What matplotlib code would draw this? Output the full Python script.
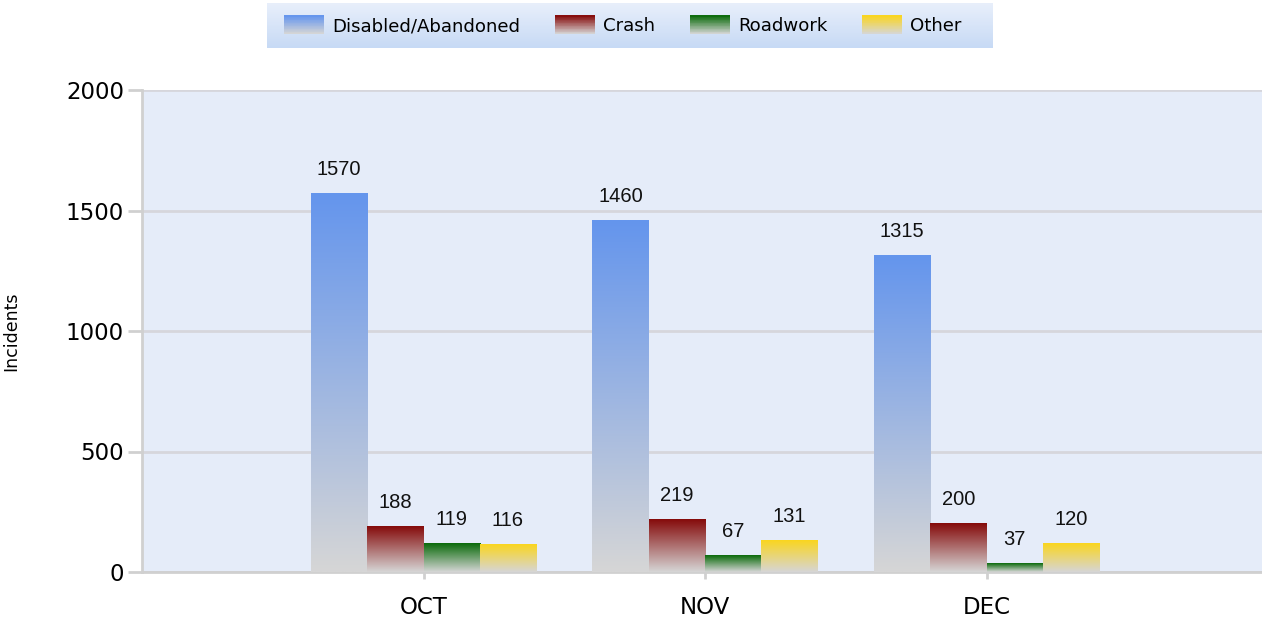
import numpy as np
import matplotlib
matplotlib.use("Agg")
import matplotlib.pyplot as plt
from matplotlib.colors import LinearSegmentedColormap, to_rgb
from matplotlib.patches import Rectangle
from matplotlib.legend_handler import HandlerBase

months = ["OCT", "NOV", "DEC"]
series = ["Disabled/Abandoned", "Crash", "Roadwork", "Other"]
disabled = [1570, 1460, 1315]
crash = [188, 219, 200]
roadwork = [119, 67, 37]
other = [116, 131, 120]
values = [disabled, crash, roadwork, other]
top_colors = ["#6495ED", "#850A0A", "#0A6A0A", "#FAD51E"]
bottom_color = "#D6D6D6"

W, H = 1262, 621
fig = plt.figure(figsize=(W / 100, H / 100), dpi=100)
ax = fig.add_axes([142 / W, 49 / H, 1 - 142 / W, (572 - 90) / H])
ax.set_facecolor("#E5ECF9")

x = np.arange(1, len(months) + 1)
width = 0.2
offsets = [-0.3, -0.1, 0.1, 0.3]

grad = np.linspace(0, 1, 256).reshape(-1, 1)
cmaps = [LinearSegmentedColormap.from_list("g", [bottom_color, c]) for c in top_colors]

for si, (vals, cm) in enumerate(zip(values, cmaps)):
    bars = ax.bar(x + offsets[si], vals, width=width, color="none", edgecolor="none", zorder=3)
    for b, v in zip(bars, vals):
        x0 = b.get_x()
        ax.imshow(grad, extent=[x0, x0 + width, 0, v], origin="lower", cmap=cm,
                  aspect="auto", zorder=3, interpolation="bilinear")
        ax.text(x0 + width / 2, v + 60, f"{v}", ha="center", va="bottom",
                fontsize=14.5, family="Liberation Sans", color="#111111", zorder=4)

ax.set_xlim(0, 1120 / 281.5)
ax.set_ylim(0, 2000)
ax.set_yticks([0, 500, 1000, 1500, 2000])
ax.set_xticks(x)
ax.set_xticklabels(months)
ax.grid(axis="y", color="#D6D6DC", linewidth=2, zorder=1)
ax.set_axisbelow(True)
for s in ["top", "right"]:
    ax.spines[s].set_visible(False)
for s in ["left", "bottom"]:
    ax.spines[s].set_color("#D0D0D0")
    ax.spines[s].set_linewidth(2)
ax.tick_params(axis="y", length=10, width=2, color="#D0D0D0", labelsize=16.5, pad=3)
ax.tick_params(axis="x", length=5, width=2, color="#D0D0D0", labelsize=16.5, pad=12)
ax.set_ylabel("Incidents", fontsize=12.5)
ax.yaxis.set_label_coords((20 - 142) / 1120, 0.5)


class GradHandler(HandlerBase):
    def __init__(self, top, n=24):
        super().__init__()
        self.top = to_rgb(top)
        self.n = n

    def create_artists(self, legend, orig_handle, xdescent, ydescent, width, height, fontsize, trans):
        arts = []
        bot = np.array(to_rgb(bottom_color))
        top = np.array(self.top)
        for i in range(self.n):
            f = (i + 0.5) / self.n
            col = bot + (top - bot) * f
            r = Rectangle((-xdescent, -ydescent + height * i / self.n), width, height / self.n + 0.3,
                          facecolor=col, edgecolor="none", transform=trans)
            arts.append(r)
        return arts


handles = [Rectangle((0, 0), 1, 1) for _ in series]
hmap = {h: GradHandler(c) for h, c in zip(handles, top_colors)}
leg = fig.legend(handles, series, handler_map=hmap, loc="center",
                 bbox_to_anchor=(623 / W, 1 - 25.5 / H), ncol=4, frameon=False,
                 fontsize=13.1, handlelength=2.2, handleheight=1.15, columnspacing=1.9,
                 handletextpad=0.45, borderpad=0.7)

# gradient background for legend box
lax = fig.add_axes([267 / W, 1 - 48 / H, (993 - 267) / W, 45 / H], zorder=-1)
lax.imshow(np.linspace(1, 0, 64).reshape(-1, 1), aspect="auto",
           cmap=LinearSegmentedColormap.from_list("lg", ["#C7DAF5", "#E8EFFB"]),
           extent=[0, 1, 0, 1], interpolation="bilinear")
lax.set_axis_off()

fig.savefig("out.png", dpi=100)
